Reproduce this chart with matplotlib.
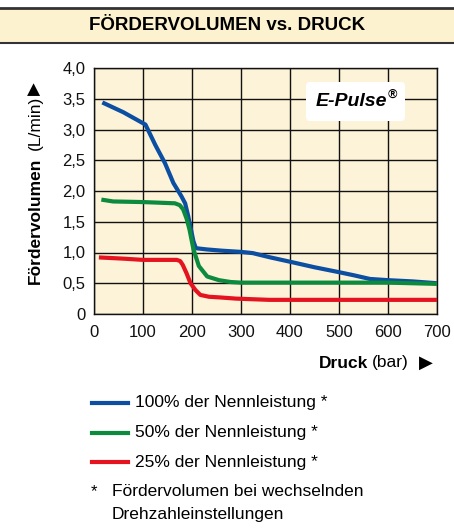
import matplotlib.pyplot as plt
from matplotlib.patches import Rectangle, FancyBboxPatch
from matplotlib.lines import Line2D

plt.rcParams['font.family'] = ['Liberation Sans', 'DejaVu Sans']

# ======================== data
p100 = [17, 60, 105, 125, 145, 162, 178, 186, 192, 198, 203, 208, 230, 260, 300, 324, 360, 400, 450, 500, 530, 563, 600, 650, 700]
q100 = [3.44, 3.28, 3.08, 2.75, 2.45, 2.13, 1.92, 1.80, 1.60, 1.37, 1.18, 1.07, 1.05, 1.03, 1.01, 0.99, 0.92, 0.85, 0.76, 0.68, 0.63, 0.57, 0.55, 0.53, 0.50]

p50 = [15, 39, 100, 165, 175, 182, 189, 195, 203, 214, 231, 255, 279, 300, 400, 500, 600, 700]
q50 = [1.86, 1.83, 1.82, 1.80, 1.77, 1.70, 1.55, 1.37, 1.05, 0.78, 0.61, 0.55, 0.52, 0.51, 0.51, 0.51, 0.51, 0.49]

p25 = [10, 60, 100, 169, 176, 181, 189, 197, 207, 217, 235, 256, 290, 324, 358, 500, 700]
q25 = [0.92, 0.90, 0.88, 0.88, 0.86, 0.80, 0.66, 0.50, 0.39, 0.31, 0.28, 0.27, 0.25, 0.24, 0.23, 0.23, 0.23]

labels = ['100% der Nennleistung *', '50% der Nennleistung *', '25% der Nennleistung *']
colors = ['#0b4ea2', '#0c8a3e', '#e5131f']
xticks = [0, 100, 200, 300, 400, 500, 600, 700]
yticks = [0, 0.5, 1.0, 1.5, 2.0, 2.5, 3.0, 3.5, 4.0]
ytick_labels = ['0', '0,5', '1,0', '1,5', '2,0', '2,5', '3,0', '3,5', '4,0']

W, H = 454, 528
fig = plt.figure(figsize=(W / 100, H / 100), dpi=100)

def fx(px):
    return px / W

def fy(py):
    return 1 - py / H

# ======================== title band
fig.patches.append(Rectangle((0, fy(43)), 1, (43 - 8) / H, transform=fig.transFigure,
                             facecolor='#fdf2d0', edgecolor='none'))
fig.add_artist(Line2D([0, 1], [fy(8), fy(8)], color='#333333', lw=2))
fig.add_artist(Line2D([0, 1], [fy(43), fy(43)], color='#333333', lw=1.5))
fig.text(0.5, fy(26), 'FÖRDERVOLUMEN vs. DRUCK', ha='center', va='center',
         fontsize=13.5, fontweight='bold')

# ======================== plot
ax = fig.add_axes([fx(94), fy(314), (437 - 94) / W, (314 - 68) / H])
ax.set_facecolor('#fdf3d9')
ax.plot(p100, q100, color=colors[0], lw=3, solid_capstyle='butt', zorder=3)
ax.plot(p50, q50, color=colors[1], lw=3, solid_capstyle='butt', zorder=3)
ax.plot(p25, q25, color=colors[2], lw=3, solid_capstyle='butt', zorder=3)
ax.set_xlim(0, 700)
ax.set_ylim(0, 4)
ax.set_xticks(xticks)
ax.set_yticks(yticks)
ax.set_yticklabels(ytick_labels)
ax.grid(True, color='#111111', lw=1)
ax.set_axisbelow(True)
for s in ax.spines.values():
    s.set_color('#111111')
    s.set_linewidth(1)
ax.tick_params(labelsize=12, length=0, colors='#111111')
ax.tick_params(axis='x', pad=8)
ax.tick_params(axis='y', pad=6)

box = FancyBboxPatch((fx(306), fy(121)), (405 - 306) / W, (121 - 82) / H,
                     boxstyle='round,pad=0,rounding_size=0.008',
                     transform=fig.transFigure, facecolor='white', edgecolor='none', zorder=5)
fig.patches.append(box)
fig.text(fx(387), fy(102), 'E-Pulse', ha='right', va='center', fontsize=14,
         fontweight='bold', style='italic', zorder=6)
fig.text(fx(388), fy(95), '®', ha='left', va='center', fontsize=9,
         fontweight='bold', style='italic', zorder=6)

# ======================== axis labels
fig.text(fx(35), fy(284), 'Fördervolumen', rotation=90, rotation_mode='anchor',
         ha='left', va='center', fontsize=12.5, fontweight='bold')
fig.text(fx(35), fy(150), '(L/min)', rotation=90, rotation_mode='anchor',
         ha='left', va='center', fontsize=12.5)
fig.text(fx(35), fy(95), '▶', rotation=90, rotation_mode='anchor',
         ha='left', va='center', fontsize=12, family='DejaVu Sans')
fig.text(fx(368), fy(363), 'Druck', ha='right', va='center', fontsize=12.5, fontweight='bold')
fig.text(fx(372), fy(363), '(bar)', ha='left', va='center', fontsize=12.5)
fig.text(fx(419), fy(363), '▶', ha='left', va='center', fontsize=13, family='DejaVu Sans')

# ======================== legend
for i, (lab, col) in enumerate(zip(labels, colors)):
    y = fy(403 + 29.5 * i)
    fig.add_artist(Line2D([fx(92), fx(128)], [y, y], color=col, lw=3))
    fig.text(fx(135), y, lab, ha='left', va='center', fontsize=12.5)
fig.text(fx(91), fy(492), '*', ha='left', va='center', fontsize=12)
fig.text(fx(112), fy(491), 'Fördervolumen bei wechselnden', ha='left', va='center', fontsize=12.5)
fig.text(fx(112), fy(514), 'Drehzahleinstellungen', ha='left', va='center', fontsize=12.5)

fig.savefig('out.png', dpi=100)
